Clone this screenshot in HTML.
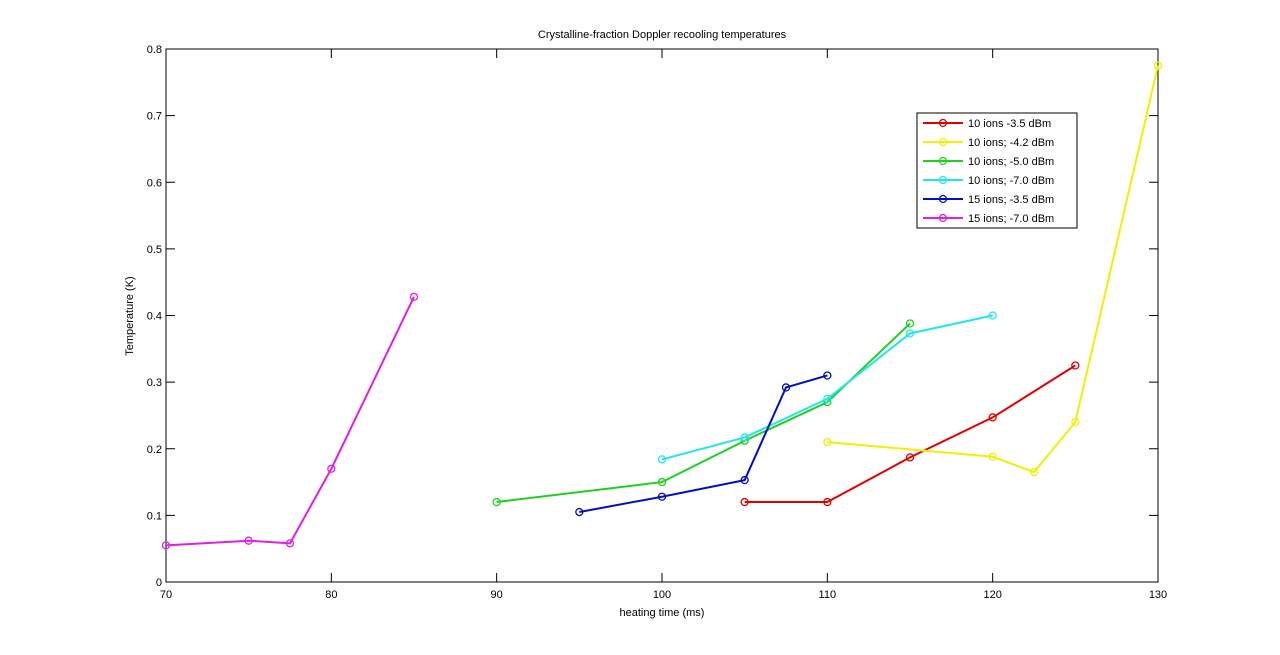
<!DOCTYPE html>
<html><head><meta charset="utf-8"><style>
body{margin:0;background:#fff;}
svg{display:block;font-family:"Liberation Sans",sans-serif;}
</style></head><body>
<svg id="chart" width="1280" height="655">
<rect x="0" y="0" width="1280" height="655" fill="#fff"/>
<rect x="166" y="49" width="992" height="533" fill="#fff" stroke="#000" stroke-width="1"/>
<text x="662" y="38" font-size="11" text-anchor="middle">Crystalline-fraction Doppler recooling temperatures</text>
<text x="662" y="616" font-size="11" text-anchor="middle">heating time (ms)</text>
<text x="133" y="316" font-size="11" text-anchor="middle" transform="rotate(-90 133 316)">Temperature (K)</text>
<g id="axes"></g>
<g id="series"></g>
<g id="legend"></g>
</svg>
<script>
const xTicks = [70, 80, 90, 100, 110, 120, 130];
const yTicks = [0, 0.1, 0.2, 0.3, 0.4, 0.5, 0.6, 0.7, 0.8];
const yTickLabels = ["0", "0.1", "0.2", "0.3", "0.4", "0.5", "0.6", "0.7", "0.8"];
const seriesNames = ["10 ions -3.5 dBm", "10 ions; -4.2 dBm", "10 ions; -5.0 dBm", "10 ions; -7.0 dBm", "15 ions; -3.5 dBm", "15 ions; -7.0 dBm"];
const seriesColors = ["#e00000", "#f0f000", "#20d020", "#20e8e8", "#0010c0", "#e020e0"];
const redX = [105, 110, 115, 120, 125];
const redY = [0.12, 0.12, 0.187, 0.247, 0.325];
const yellowX = [110, 120, 122.5, 125, 130];
const yellowY = [0.21, 0.188, 0.165, 0.24, 0.775];
const greenX = [90, 100, 105, 110, 115];
const greenY = [0.12, 0.15, 0.212, 0.27, 0.388];
const cyanX = [100, 105, 110, 115, 120];
const cyanY = [0.184, 0.217, 0.275, 0.373, 0.4];
const blueX = [95, 100, 105, 107.5, 110];
const blueY = [0.105, 0.128, 0.153, 0.292, 0.31];
const magentaX = [70, 75, 77.5, 80, 85];
const magentaY = [0.055, 0.062, 0.058, 0.17, 0.428];

const NS = "http://www.w3.org/2000/svg";
const L = 166, R = 1158, T = 49, B = 582;
const xs = v => L + (v - 70) / 60 * (R - L);
const ys = v => B - v / 0.8 * (B - T);
function mk(tag, attrs, parent) {
  const e = document.createElementNS(NS, tag);
  for (const k in attrs) e.setAttribute(k, attrs[k]);
  parent.appendChild(e);
  return e;
}
const axes = document.getElementById("axes");
xTicks.forEach(v => {
  const x = xs(v);
  const t1 = mk("line", {x1: x, x2: x, y1: B, y2: B - 9, stroke: "#000"}, axes);
  
  
  const t2 = mk("line", {x1: x, x2: x, y1: T, y2: T + 9, stroke: "#000"}, axes);
  
  
  const lb = mk("text", {x: x, y: B + 16, "font-size": 11, "text-anchor": "middle"}, axes);
  lb.textContent = v;
  
  
});
yTicks.forEach((v, i) => {
  const y = ys(v);
  const t1 = mk("line", {x1: L, x2: L + 9, y1: y, y2: y, stroke: "#000"}, axes);
  
  
  const t2 = mk("line", {x1: R, x2: R - 9, y1: y, y2: y, stroke: "#000"}, axes);
  
  
  const lb = mk("text", {x: L - 4, y: y + 4, "font-size": 11, "text-anchor": "end"}, axes);
  lb.textContent = yTickLabels[i];
  
  
});
const allX = [redX, yellowX, greenX, cyanX, blueX, magentaX];
const allY = [redY, yellowY, greenY, cyanY, blueY, magentaY];
const sg = document.getElementById("series");
allX.forEach((xa, si) => {
  const g = mk("g", {}, sg);
  
  
  const pts = xa.map((x, i) => xs(x) + "," + ys(allY[si][i])).join(" ");
  const pl = mk("polyline", {points: pts, fill: "none", stroke: seriesColors[si], "stroke-width": 2}, g);
  
  
  xa.forEach((x, i) => {
    const c = mk("circle", {cx: xs(x), cy: ys(allY[si][i]), r: 3.5, fill: "none", stroke: seriesColors[si], "stroke-width": 1.3}, g);
    
    
  });
});
const lg = document.getElementById("legend");
const box = mk("rect", {x: 917, y: 113, width: 160, height: 115, fill: "#fff", stroke: "#000"}, lg);


seriesNames.forEach((n, i) => {
  const y = 123 + i * 19;
  const g = mk("g", {}, lg);
  
  
  mk("line", {x1: 923, x2: 963, y1: y, y2: y, stroke: seriesColors[i], "stroke-width": 2}, g);
  mk("circle", {cx: 943, cy: y, r: 3.5, fill: "none", stroke: seriesColors[i], "stroke-width": 1.3}, g);
  const t = mk("text", {x: 968, y: y + 4, "font-size": 11}, g);
  t.textContent = n;
});
</script>
</body></html>
